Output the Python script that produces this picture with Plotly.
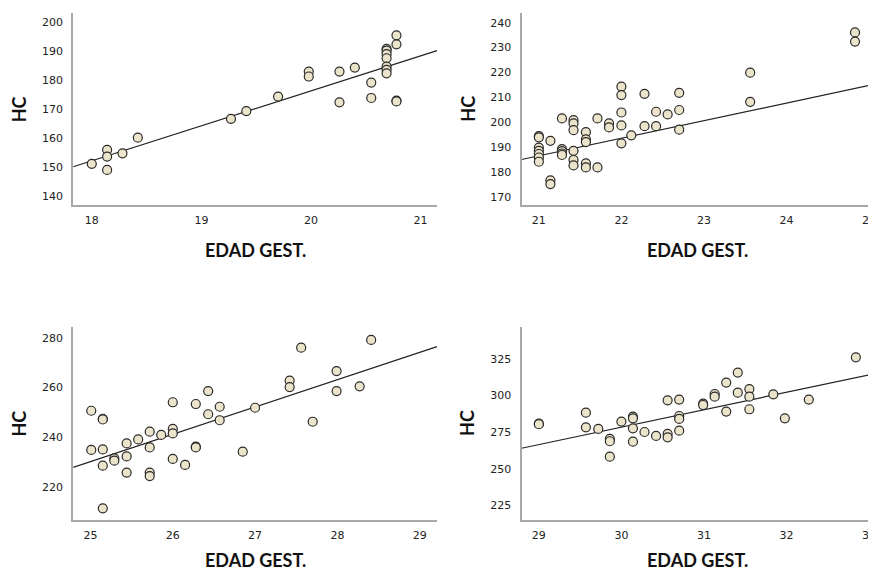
import plotly.graph_objects as go

# Panel 1
x1 = [18.0, 18.14, 18.14, 18.14, 18.28, 18.42, 19.27, 19.41, 19.7, 19.98, 19.98,
      20.26, 20.26, 20.4, 20.55, 20.55, 20.69, 20.69, 20.69, 20.69, 20.69, 20.69, 20.69,
      20.78, 20.78, 20.78, 20.78]
y1 = [151.3, 156.1, 153.8, 149.2, 154.9, 160.3, 166.8, 169.5, 174.5, 183.1, 181.4,
      183.1, 172.5, 184.5, 179.3, 174.0, 190.9, 190.3, 189.1, 187.7, 184.8, 183.7, 182.5,
      195.6, 192.5, 173.1, 172.8]

# Panel 2
x2 = [21.0, 21.0, 21.0, 21.0, 21.0, 21.0, 21.0, 21.14, 21.14, 21.14,
      21.28, 21.28, 21.28, 21.28, 21.28, 21.42, 21.42, 21.42, 21.42, 21.42, 21.42,
      21.57, 21.57, 21.57, 21.57, 21.57, 21.71, 21.71, 21.85, 21.85,
      22.0, 22.0, 22.0, 22.0, 22.0, 22.12, 22.28, 22.28, 22.42, 22.42, 22.56,
      22.7, 22.7, 22.7, 23.56, 23.56, 24.83, 24.83]
y2 = [194.4, 193.9, 189.8, 188.5, 187.2, 185.8, 184.1, 192.5, 176.6, 175.1,
      201.5, 189.2, 188.4, 187.4, 186.8, 200.8, 199.5, 196.8, 188.5, 184.8, 182.6,
      196.0, 193.1, 192.0, 183.4, 181.8, 201.5, 181.8, 199.5, 197.9,
      214.3, 210.9, 203.9, 198.7, 191.5, 194.7, 211.4, 198.4, 204.2, 198.4, 203.1,
      211.8, 204.9, 197.0, 219.9, 208.2, 236.1, 232.4]

# Panel 3
x3 = [25.01, 25.01, 25.15, 25.15, 25.15, 25.15, 25.15, 25.29, 25.29, 25.44, 25.44, 25.44,
      25.58, 25.72, 25.72, 25.72, 25.72, 25.86, 26.0, 26.0, 26.0, 26.0, 26.15,
      26.28, 26.28, 26.28, 26.43, 26.43, 26.57, 26.57, 26.85, 27.0, 27.42, 27.42,
      27.56, 27.7, 27.99, 27.99, 28.27, 28.41]
y3 = [250.7, 235.0, 247.5, 247.2, 235.2, 228.7, 211.6, 231.6, 230.7, 237.6, 232.4, 225.9,
      239.2, 242.3, 236.0, 225.9, 224.5, 241.0, 254.1, 243.4, 241.6, 231.4, 229.0,
      253.4, 236.3, 236.0, 258.6, 249.3, 252.3, 246.9, 234.3, 251.9, 262.8, 260.2,
      276.0, 246.3, 266.6, 258.6, 260.5, 279.1]

# Panel 4
x4 = [29.0, 29.0, 29.57, 29.57, 29.72, 29.86, 29.86, 29.86, 30.0, 30.14, 30.14, 30.14, 30.14,
      30.28, 30.42, 30.56, 30.56, 30.56, 30.7, 30.7, 30.7, 30.7, 30.99, 30.99,
      31.13, 31.13, 31.27, 31.27, 31.41, 31.41, 31.55, 31.55, 31.55, 31.84, 31.98,
      32.27, 32.84]
y4 = [280.9, 280.5, 288.4, 278.4, 277.3, 270.5, 268.9, 258.4, 282.3, 285.7, 284.5, 277.7, 268.6,
      275.2, 272.5, 296.8, 273.9, 271.6, 297.3, 286.1, 284.1, 276.1, 294.5, 293.6,
      301.1, 299.3, 308.9, 289.1, 315.7, 302.0, 304.5, 299.3, 290.7, 300.9, 284.5,
      297.3, 326.1]

# Fit lines: HC = intercept + slope * EDAD
fit_slope = [12.05, 7.07, 10.95, 11.89]
fit_intercept = [-64.55, 38.0, -43.45, -78.2]

x_title = "EDAD GEST."
y_title = "HC"

W, H, OFF = 868, 565, 8  # page body margin compensation


def px(xp):
    return (xp - OFF) / W


def py(yp):
    return 1 - (yp - OFF) / H


panels = [
    dict(x=x1, y=y1, xr=[17.83, 21.15], yr=[137.1, 203.3], xt=[18, 19, 20, 21],
         yt=[140, 150, 160, 170, 180, 190, 200],
         dx=[px(73.3), px(438)], dy=[py(205), py(13)]),
    dict(x=x2, y=y2, xr=[20.79, 25.06], yr=[166.7, 243.9], xt=[21, 22, 23, 24, 25],
         yt=[170, 180, 190, 200, 210, 220, 230, 240],
         dx=[px(522.7), 1.0], dy=[py(205), py(13)]),
    dict(x=x3, y=y3, xr=[24.79, 29.21], yr=[206.9, 284.4], xt=[25, 26, 27, 28, 29],
         yt=[220, 240, 260, 280],
         dx=[px(73.3), px(438)], dy=[py(520), py(326.7)]),
    dict(x=x4, y=y4, xr=[28.79, 33.06], yr=[215.2, 347.0], xt=[29, 30, 31, 32, 33],
         yt=[225, 250, 275, 300, 325],
         dx=[px(522.7), 1.0], dy=[py(520), py(326.7)]),
]

fig = go.Figure()
layout = {}
annotations = []
for i, p in enumerate(panels, start=1):
    xa = "x" if i == 1 else f"x{i}"
    ya = "y" if i == 1 else f"y{i}"
    b = fit_slope[i - 1]
    a = fit_intercept[i - 1]
    lx = list(p["xr"])
    fig.add_trace(go.Scatter(x=lx, y=[a + b * v for v in lx], mode="lines",
                             line=dict(color="#222222", width=1.2),
                             xaxis=xa, yaxis=ya, showlegend=False, hoverinfo="skip"))
    fig.add_trace(go.Scatter(x=p["x"], y=p["y"], mode="markers",
                             marker=dict(size=9, color="#ebe4cb", line=dict(color="#2a2a2a", width=1.2)),
                             xaxis=xa, yaxis=ya, showlegend=False))
    axcommon = dict(showgrid=False, zeroline=False, ticks="", showline=True, linecolor="#a8a8a8", linewidth=2,
                    tickfont=dict(family="DejaVu Sans", size=11, color="#222222"))
    layout["xaxis" if i == 1 else f"xaxis{i}"] = dict(domain=p["dx"], range=p["xr"], tickvals=p["xt"],
                                                       anchor=ya, ticklabelstandoff=4,
                                                       ticklabeloverflow="allow", **axcommon)
    layout["yaxis" if i == 1 else f"yaxis{i}"] = dict(domain=p["dy"], range=p["yr"], tickvals=p["yt"],
                                                       anchor=xa, ticklabelstandoff=6, **axcommon)
    cx = (p["dx"][0] + p["dx"][1]) / 2 if i % 2 == 1 else px((522.7 + 876) / 2)
    if i <= 2:
        ann_y, ann_anchor = p["dy"][0] - 45 / H, "middle"
    else:
        ann_y, ann_anchor = 0.0, "bottom"
    annotations.append(dict(text=f"<b>{x_title}</b>", x=cx, y=ann_y, xref="paper", yref="paper",
                            showarrow=False, xanchor="center", yanchor=ann_anchor,
                            font=dict(family="Lato", size=18, color="#111111")))
    annotations.append(dict(text=f"<b>{y_title}</b>", x=p["dx"][0] - 54 / W, y=(p["dy"][0] + p["dy"][1]) / 2,
                            xref="paper", yref="paper", showarrow=False, textangle=-90,
                            xanchor="center", yanchor="middle",
                            font=dict(family="Lato", size=18, color="#111111")))

fig.update_layout(**layout)
fig.update_layout(width=W, height=H, margin=dict(l=0, r=0, t=0, b=0),
                  paper_bgcolor="white", plot_bgcolor="white", annotations=annotations)
fig.write_html("out.html")
